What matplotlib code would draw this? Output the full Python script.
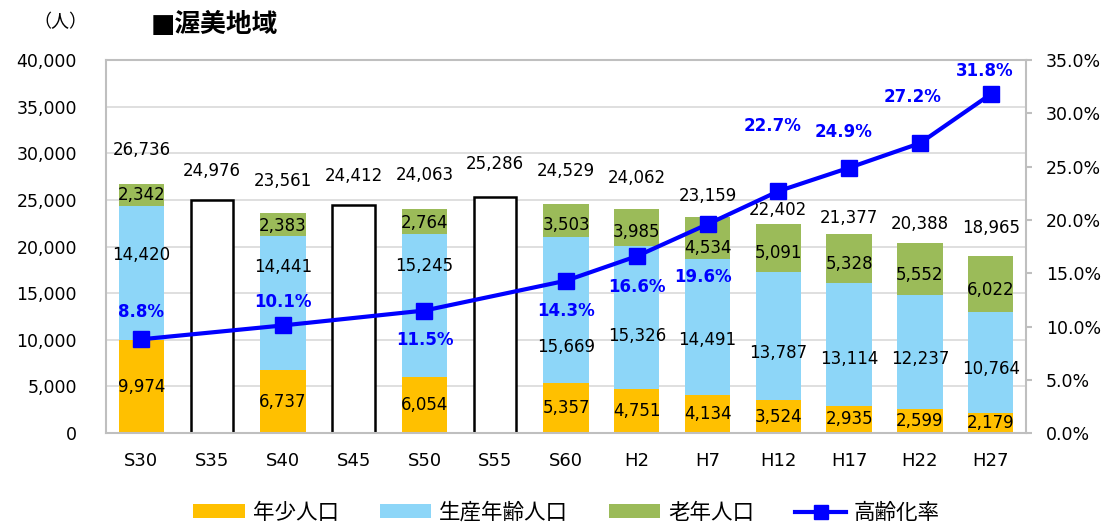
import numpy as np
import matplotlib
matplotlib.use("Agg")
from matplotlib import pyplot as plt
from matplotlib.patches import Patch
from matplotlib.lines import Line2D
from matplotlib.ticker import FuncFormatter

plt.rcParams['font.family'] = ['DejaVu Sans', 'Noto Sans CJK JP']

years = ["S30", "S35", "S40", "S45", "S50", "S55", "S60", "H2", "H7", "H12", "H17", "H22", "H27"]
totals = [26736, 24976, 23561, 24412, 24063, 25286, 24529, 24062, 23159, 22402, 21377, 20388, 18965]
young = [9974, np.nan, 6737, np.nan, 6054, np.nan, 5357, 4751, 4134, 3524, 2935, 2599, 2179]
working = [14420, np.nan, 14441, np.nan, 15245, np.nan, 15669, 15326, 14491, 13787, 13114, 12237, 10764]
old = [2342, np.nan, 2383, np.nan, 2764, np.nan, 3503, 3985, 4534, 5091, 5328, 5552, 6022]
rate = [8.8, np.nan, 10.1, np.nan, 11.5, np.nan, 14.3, 16.6, 19.6, 22.7, 24.9, 27.2, 31.8]

# label placement (layout only)
rate_offsets = [(0, 20), None, (0, 17), None, (0, -21), None, (0, -22), (0, -22), (-3, -38),
                (-4, 47), (-4, 26), (-5, 33), (-4, 17)]
total_offsets = [24, 21, 23, 21, 24, 24, 24, 22, 15, 10, 11, 14, 20]
work_frac = [0.63, 0, 0.77, 0, 0.78, 0, 0.25, 0.37, 0.40, 0.37, 0.38, 0.44, 0.44]
old_frac = [0.49, 0, 0.43, 0, 0.44, 0, 0.36, 0.37, 0.28, 0.39, 0.39, 0.38, 0.40]

c_young = "#FFC000"
c_work = "#8DD6F8"
c_old = "#9BBB59"
c_line = "#0000FF"

x = np.arange(len(years))
w = 0.64

fig = plt.figure(figsize=(11.09, 5.23), dpi=100)
ax = fig.add_axes([0.0956, 0.172, 0.8296, 0.713])

y = np.array(young, dtype=float)
wk = np.array(working, dtype=float)
od = np.array(old, dtype=float)
tot = np.array(totals, dtype=float)
has = ~np.isnan(y)

ax.bar(x[has], y[has], w, color=c_young, zorder=2)
ax.bar(x[has], wk[has], w, bottom=y[has], color=c_work, zorder=2)
ax.bar(x[has], od[has], w, bottom=y[has] + wk[has], color=c_old, zorder=2)
ax.bar(x[~has], tot[~has], 0.6, facecolor="white", edgecolor="black", linewidth=1.8, zorder=2)

lab_fs = 12
for i in x:
    ax.annotate(f"{totals[i]:,}", (i, totals[i]), xytext=(0, total_offsets[i]), textcoords="offset points",
                ha="center", va="center", fontsize=lab_fs)
    if has[i]:
        ax.text(i, y[i] / 2, f"{young[i]:,}", ha="center", va="center", fontsize=lab_fs, zorder=3)
        ax.text(i, y[i] + wk[i] * work_frac[i], f"{working[i]:,}", ha="center", va="center",
                fontsize=lab_fs, zorder=3)
        ax.text(i, y[i] + wk[i] + od[i] * old_frac[i], f"{old[i]:,}", ha="center", va="center",
                fontsize=lab_fs, zorder=3)

ax.set_ylim(0, 40000)
ax.set_xlim(-0.5, len(years) - 0.5)
ax.set_yticks(np.arange(0, 40001, 5000))
ax.yaxis.set_major_formatter(FuncFormatter(lambda v, p: f"{int(v):,}"))
ax.set_xticks(x)
ax.set_xticklabels(years, fontsize=13)
ax.tick_params(axis="y", length=0, labelsize=12.5, pad=21)
ax.tick_params(axis="x", length=0, pad=14)
ax.grid(axis="y", color="#D9D9D9", linewidth=1.2, zorder=0)
for s in ax.spines.values():
    s.set_color("#BFBFBF")
    s.set_linewidth(1.5)

ax2 = ax.twinx()
r = np.array(rate, dtype=float)
ax2.plot(x[has], r[has], color=c_line, linewidth=3, marker="s", markersize=11, zorder=5)
ax2.set_ylim(0, 35)
ax2.set_yticks(np.arange(0, 35.1, 5))
ax2.yaxis.set_major_formatter(FuncFormatter(lambda v, p: f"{v:.1f}%"))
ax2.tick_params(axis="y", labelsize=12.5, length=4.5, color="#BFBFBF", width=1.5, pad=10)
for s in ax2.spines.values():
    s.set_visible(False)
for i in x:
    if has[i]:
        ax2.annotate(f"{rate[i]}%", (i, rate[i]), xytext=rate_offsets[i], textcoords="offset points",
                     ha="center", va="center", fontsize=12, fontweight="bold", color=c_line)

fig.text(0.03, 0.958, "（人）", fontsize=13, ha="left", va="center")
fig.text(0.136, 0.952, "■渥美地域", fontsize=18.5, fontweight="bold", ha="left", va="center")

handles = [
    Patch(facecolor=c_young, label="年少人口"),
    Patch(facecolor=c_work, label="生産年齢人口"),
    Patch(facecolor=c_old, label="老年人口"),
    Line2D([0], [0], color=c_line, linewidth=3, marker="s", markersize=10, label="高齢化率"),
]
fig.legend(handles=handles, loc="center", bbox_to_anchor=(0.511, 0.02), ncol=4, frameon=False,
           fontsize=15.5, handlelength=2.4, handleheight=0.6, handletextpad=0.35, columnspacing=1.9)

fig.savefig("out.png", dpi=100)
